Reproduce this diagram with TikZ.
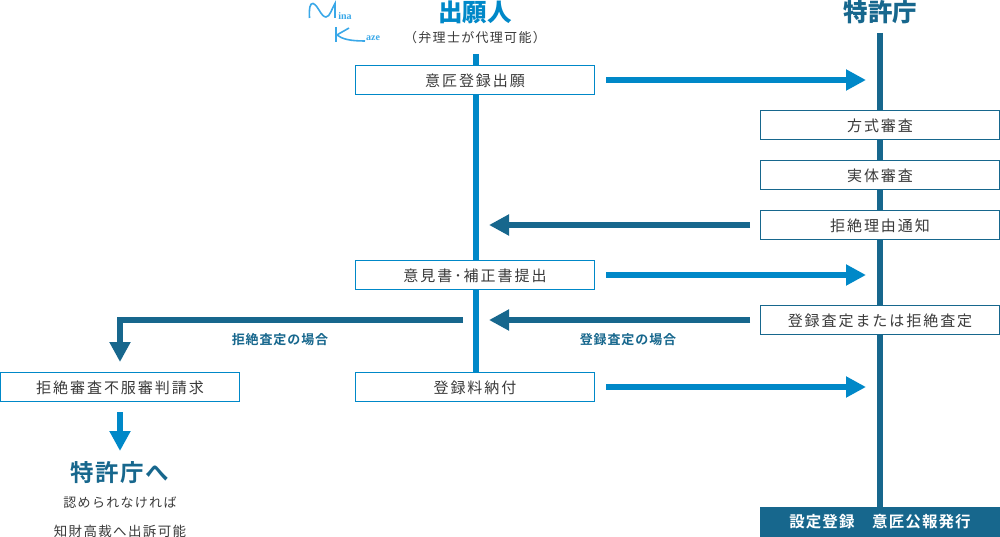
\documentclass[tikz,border=0pt]{standalone}
\usepackage{fontspec}
\usetikzlibrary{arrows.meta}
\setmainfont{Noto Sans CJK JP}
\newfontfamily\boxfont[LetterSpace=13]{Noto Sans CJK JP}
\newfontfamily\boldfont[LetterSpace=7,BoldFont={Noto Sans CJK JP Bold}]{Noto Sans CJK JP}
\newfontfamily\subfont[LetterSpace=10]{Noto Sans CJK JP}
\newfontfamily\logofont{Liberation Serif}
\newcommand\boxtext[1]{\raisebox{-1pt}[\height][\depth]{#1}}
\definecolor{cblue}{HTML}{0088C8}
\definecolor{cdark}{HTML}{17678D}
\definecolor{ctext}{HTML}{3A3A3A}
\definecolor{clogo}{HTML}{3AA8E8}
\tikzset{
  x=1pt,y=-1pt,
  flowbox/.style={draw=#1,line width=1pt,fill=white,minimum width=239pt,minimum height=29pt,inner sep=0pt,text=ctext,font=\fontsize{15}{15}\selectfont\boxfont},
  flowbox/.default=cblue,
  bluearrow/.style={draw=cblue,line width=6pt,-{Triangle[length=20pt,width=20pt]},color=cblue},
  darkarrow/.style={draw=cdark,line width=6pt,-{Triangle[length=20pt,width=20pt]},color=cdark},
  lifeblue/.style={draw=cblue,line width=6pt},
  lifedark/.style={draw=cdark,line width=6pt},
  headlabel/.style={inner sep=0pt,font=\fontsize{24.5}{25}\selectfont\bfseries},
  caselabel/.style={inner sep=0pt,text=cdark,font=\fontsize{13}{13}\selectfont\boldfont\bfseries},
  notelabel/.style={inner sep=0pt,text=ctext,font=\fontsize{13}{13}\selectfont\subfont},
  logoline/.style={draw=clogo,line width=1.6pt},
  logotext/.style={inner sep=0pt,text=clogo,font=\fontsize{10}{10}\selectfont\logofont\bfseries}
}
\begin{document}
\begin{tikzpicture}
\useasboundingbox (0,0) rectangle (1000,537);
% headings
\node[headlabel,text=cblue] (applicant) at (475,12) {出願人};
\node[notelabel] (agent) at (475,37.5) {（弁理士が代理可能）};
\node[headlabel,text=cdark] (office) at (880.5,12) {特許庁};
% nodes
\node[flowbox] (apply) at (475,80) {\boxtext{意匠登録出願}};
\node[flowbox] (opinion) at (475,275) {\boxtext{意見書･補正書提出}};
\node[flowbox] (fee) at (475,387) {\boxtext{登録料納付}};
\node[flowbox=cdark] (formal) at (880,125) {\boxtext{方式審査}};
\node[flowbox=cdark] (subst) at (880,175) {\boxtext{実体審査}};
\node[flowbox=cdark] (reject) at (880,225) {\boxtext{拒絶理由通知}};
\node[flowbox=cdark] (decide) at (880,320) {\boxtext{登録査定または拒絶査定}};
\node[flowbox] (appeal) at (120,387) {\boxtext{拒絶審査不服審判請求}};
\node[anchor=south,fill=cdark,minimum width=240pt,minimum height=30pt,inner sep=0pt,text=white,font=\fontsize{15.5}{15.5}\selectfont\boldfont\bfseries] (publish) at (880,537) {設定登録　意匠公報発行};
\node[inner sep=0pt,text=cdark,font=\fontsize{23.5}{24}\selectfont\boldfont\bfseries] (office2) at (120,472.5) {特許庁へ};
\node[notelabel] (note1) at (120,502.5) {認められなければ};
\node[notelabel,font=\fontsize{13.5}{13.5}\selectfont\subfont] (note2) at (120,531) {知財高裁へ出訴可能};
\node[caselabel] (case1) at (280,340) {拒絶査定の場合};
\node[caselabel] (case2) at (628,340) {登録査定の場合};
% free ends
\coordinate (lt) at (476,54);
\coordinate (rt) at (880,33);
\coordinate (a1s) at (606,80);\coordinate (a1e) at (866,80);
\coordinate (a2s) at (750,225);\coordinate (a2e) at (489,225);
\coordinate (a3s) at (606,275);\coordinate (a3e) at (866,275);
\coordinate (a4s) at (750,320);\coordinate (a4e) at (489,320);
\coordinate (a5s) at (606,387);\coordinate (a5e) at (866,387);
\coordinate (a6s) at (463,320);\coordinate (a6c) at (120,320);\coordinate (a6e) at (120,362);
\coordinate (a7s) at (120,412);\coordinate (a7e) at (120,451);
% lifelines
\draw[lifeblue] (lt) -- (apply.north -| lt);
\draw[lifeblue] (apply.south -| lt) -- (opinion.north -| lt);
\draw[lifeblue] (opinion.south -| lt) -- (fee.north -| lt);
\draw[lifedark] (rt) -- (formal.north);
\draw[lifedark] (formal.south) -- (subst.north);
\draw[lifedark] (subst.south) -- (reject.north);
\draw[lifedark] (reject.south) -- (decide.north);
\draw[lifedark] (decide.south) -- (publish.north);
% arrows
\draw[bluearrow] (a1s) -- (a1e);
\draw[darkarrow] (a2s) -- (a2e);
\draw[bluearrow] (a3s) -- (a3e);
\draw[darkarrow] (a4s) -- (a4e);
\draw[bluearrow] (a5s) -- (a5e);
\draw[darkarrow] (a6s) -- (a6c) -- (a6e);
\draw[bluearrow] (a7s) -- (a7e);
% logo
\draw[logoline] (309.5,18) .. controls (309,8) and (310,3) .. (313,3.5) .. controls (318,5) and (321,17) .. (326,17) .. controls (330,17) and (332,8) .. (335,3.5) -- (335,18);
\draw[logoline] (336,27) -- (336,42);
\draw[logoline] (349,28) .. controls (344,31) and (340,33) .. (337,35) .. controls (342,39) and (350,41) .. (365,41);
\node[logotext] (mina) at (345,16.5) {ina};
\node[logotext] (kaze) at (373,38.5) {aze};
\end{tikzpicture}
\end{document}
